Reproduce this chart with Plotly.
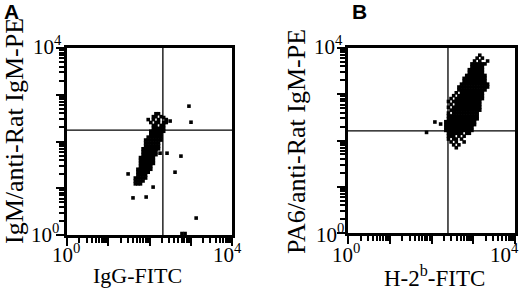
import plotly.graph_objects as go

# ---------------- data (fluorescence channels, 16 channels per decade) ----------------
CHANNELS_PER_DECADE = 16

# Panel A: dense population, y-channel -> occupied x-channels
a_cells = {
    17: [26, 27, 28],
    18: [26, 27, 28, 29],
    19: [26, 27, 28, 29, 30],
    20: [27, 28, 29, 30],
    21: [27, 28, 29, 30, 31],
    22: [27, 28, 29, 30, 31, 32],
    23: [28, 29, 30, 31, 32],
    24: [28, 29, 30, 31, 32, 33],
    25: [28, 29, 30, 31, 32, 33],
    26: [28, 29, 30, 31, 32, 33],
    27: [29, 30, 31, 32, 33, 34],
    28: [29, 30, 31, 32, 33, 34],
    29: [29, 30, 31, 32, 33, 34, 35],
    30: [30, 31, 32, 33, 34, 35],
    31: [30, 31, 32, 33, 34, 35],
    32: [30, 31, 32, 33, 34, 35, 36],
    33: [31, 32, 33, 34, 35, 36],
    34: [32, 33, 34, 35, 36],
    35: [32, 33, 34, 35, 36, 37],
    36: [33, 34, 35, 36, 37],
    37: [33, 34, 36, 37],
    38: [32, 34, 35, 37, 38],
    39: [31, 33, 35, 38],
    40: [33, 34, 36],
    41: [34, 35],
}
# Panel A: isolated events (x-channel, y-channel)
a_outliers_x = [23.7, 25.6, 30.7, 33.4, 36.1, 38.8, 44.2, 41.9, 47.3, 48.1, 50.1, 44.6, 45.8, 38.5, 40.0, 37.5]
a_outliers_y = [20.9, 12.7, 13.0, 16.4, 28.0, 28.0, 27.0, 21.5, 44.1, 38.6, 5.8, 0.5, 0.5, 39.3, 39.0, 40.2]
a_gate = (211, 175)

# Panel B
b_cells = {
    61: [50],
    60: [49, 51],
    59: [48, 50, 53],
    58: [47, 48, 49, 50, 51, 52],
    57: [47, 48, 49, 50, 51],
    56: [46, 47, 48, 49, 50, 51],
    55: [46, 47, 48, 49, 50, 51],
    54: [45, 46, 47, 48, 49, 50, 51, 52],
    53: [44, 45, 46, 47, 48, 49, 50, 51, 52],
    52: [44, 45, 46, 47, 48, 49, 50, 51, 52],
    51: [43, 44, 45, 46, 47, 48, 49, 50, 51, 52, 53],
    50: [42, 43, 44, 45, 46, 47, 48, 49, 50, 51, 52, 53],
    49: [42, 43, 44, 45, 46, 47, 48, 49, 50, 51, 52],
    48: [41, 43, 44, 45, 46, 47, 48, 49, 50, 51],
    47: [40, 42, 43, 44, 45, 46, 47, 48, 49, 50, 51],
    46: [39, 41, 42, 43, 44, 45, 46, 47, 48, 49, 50, 51],
    45: [38, 40, 41, 42, 43, 44, 45, 46, 47, 48, 49, 50],
    44: [39, 41, 42, 43, 44, 45, 46, 47, 48, 49, 50],
    43: [38, 40, 41, 42, 43, 44, 45, 46, 47, 48, 49, 50],
    42: [39, 40, 41, 42, 43, 44, 45, 46, 47, 48, 49, 50],
    41: [38, 40, 41, 42, 43, 44, 45, 46, 47, 48, 49],
    40: [38, 39, 40, 41, 42, 43, 44, 45, 46, 47, 48, 49],
    39: [38, 39, 40, 41, 42, 43, 44, 45, 46, 47, 48, 49],
    38: [37, 38, 39, 40, 41, 42, 43, 44, 45, 46, 47, 48],
    37: [37, 38, 39, 40, 41, 42, 43, 44, 45, 46, 47, 48],
    36: [37, 38, 39, 40, 41, 42, 43, 44, 45, 46, 47],
    35: [37, 38, 39, 40, 41, 42, 43, 44, 45, 46, 47],
    34: [38, 39, 40, 41, 42, 43, 45, 46],
    33: [38, 39, 40, 42, 44],
    32: [38, 40, 41, 43],
    31: [39, 41, 44],
    30: [40, 42],
    29: [41],
}
b_outliers_x = [30.1, 33.3, 35.5]
b_outliers_y = [34.8, 38.4, 37.7]
b_gate = (248, 161)

axis_range_labels = ["10<sup>0</sup>", "10<sup>4</sup>"]
a_xtitle = "IgG-FITC"
a_ytitle = "IgM/anti-Rat IgM-PE"
b_xtitle = "H-2<sup>b</sup>-FITC"
b_ytitle = "PA6/anti-Rat IgM-PE"
panel_labels = ["A", "B"]


def ch2val(c):
    return 10 ** (c / CHANNELS_PER_DECADE)


def expand(cells, ox, oy):
    xs, ys = [], []
    for yc, xl in cells.items():
        for xc in xl:
            xs.append(ch2val(xc + 0.5))
            ys.append(ch2val(yc + 0.5))
    xs += [ch2val(v) for v in ox]
    ys += [ch2val(v) for v in oy]
    return xs, ys


ax_x, ax_y = expand(a_cells, a_outliers_x, a_outliers_y)
bx_x, bx_y = expand(b_cells, b_outliers_x, b_outliers_y)

W, H = 520, 292
SERIF = "Liberation Serif, Times New Roman, serif"

fig = go.Figure()
marker = dict(symbol="square", size=3.6, color="black", line=dict(width=0))

for (gx, gy), xa, ya in [(a_gate, "x", "y"), (b_gate, "x2", "y2")]:
    fig.add_trace(go.Scatter(x=[gx, gx], y=[1, 10000], mode="lines",
                             line=dict(color="black", width=1.3), xaxis=xa, yaxis=ya,
                             showlegend=False, hoverinfo="skip"))
    fig.add_trace(go.Scatter(x=[1, 10000], y=[gy, gy], mode="lines",
                             line=dict(color="black", width=1.3), xaxis=xa, yaxis=ya,
                             showlegend=False, hoverinfo="skip"))

fig.add_trace(go.Scatter(x=ax_x, y=ax_y, mode="markers", marker=marker,
                         xaxis="x", yaxis="y", showlegend=False))
fig.add_trace(go.Scatter(x=bx_x, y=bx_y, mode="markers", marker=marker,
                         xaxis="x2", yaxis="y2", showlegend=False))

major = [1, 10, 100, 1000, 10000]
minor = [k * 10 ** d for d in range(4) for k in range(2, 10)]


def axstyle(domain, anchor):
    return dict(type="log", range=[0, 4], domain=domain, anchor=anchor,
                showline=True, linecolor="black", linewidth=2.5, mirror=True,
                ticks="outside", tickmode="array", tickvals=major, ticklen=8,
                tickwidth=2, tickcolor="black", showticklabels=False,
                showgrid=False, zeroline=False, fixedrange=True,
                minor=dict(tickmode="array", tickvals=minor, ticks="outside",
                           ticklen=5, tickwidth=2, tickcolor="black", showgrid=False))


def px(x):
    return x / W


def py(y):
    return 1 - y / H


fig.update_layout(
    width=W, height=H, margin=dict(l=0, r=0, t=0, b=0),
    paper_bgcolor="white", plot_bgcolor="white", hovermode=False,
    xaxis=axstyle([px(67), px(232)], "y"),
    yaxis=axstyle([py(235), py(48)], "x"),
    xaxis2=axstyle([px(348), px(515)], "y2"),
    yaxis2=axstyle([py(233), py(48)], "x2"),
)

ann = []


def add_text(text, x, y, size, angle=0, family=SERIF, bold=False):
    ann.append(dict(text=f"<b>{text}</b>" if bold else text, x=px(x), y=py(y),
                    xref="paper", yref="paper", xanchor="center", yanchor="middle",
                    showarrow=False, textangle=angle,
                    font=dict(family=family, size=size, color="black")))


# tick labels
add_text(axis_range_labels[1], 47, 46, 21)
add_text(axis_range_labels[0], 45, 233, 21)
add_text(axis_range_labels[0], 66, 253, 21)
add_text(axis_range_labels[1], 227, 253, 21)
add_text(axis_range_labels[1], 328, 46, 21)
add_text(axis_range_labels[0], 330, 233, 21)
add_text(axis_range_labels[0], 346, 253, 21)
add_text(axis_range_labels[1], 504, 253, 21)
# titles
add_text(a_xtitle, 137, 275, 22)
add_text(b_xtitle, 434, 276, 23)
add_text(a_ytitle, 14, 131, 26, angle=-90)
add_text(b_ytitle, 297, 142, 26, angle=-90)
# panel labels
add_text(panel_labels[0], 11, 12, 21, family="Liberation Sans, Arial, sans-serif", bold=True)
add_text(panel_labels[1], 359, 12, 21, family="Liberation Sans, Arial, sans-serif", bold=True)

fig.update_layout(annotations=ann)
fig.write_html("out.html", config={"displayModeBar": False},
               post_script="document.body.style.margin='0';document.body.style.padding='0';")
